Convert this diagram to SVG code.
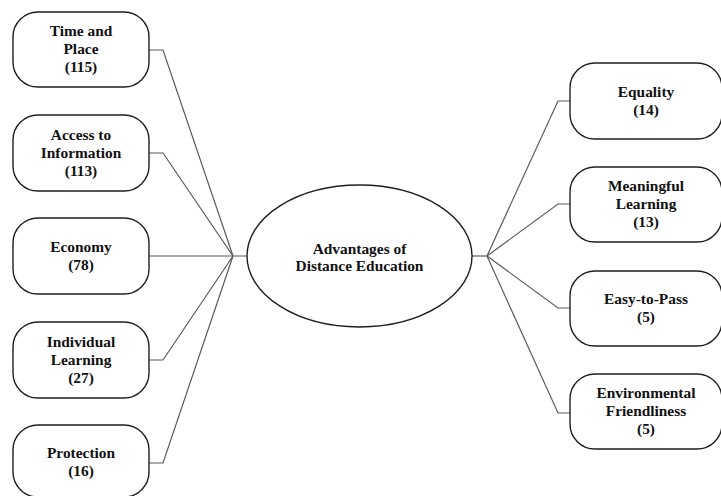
<svg xmlns="http://www.w3.org/2000/svg" width="721" height="496" viewBox="0 0 721 496">
<style>
.box{fill:#fff;stroke:#1e1e1e;stroke-width:1.4}
.ln{fill:none;stroke:#5a5a5a;stroke-width:1.2}
text{font-family:"Liberation Serif","Times New Roman",serif;font-weight:bold;font-size:15.4px;fill:#111;text-anchor:middle}
</style>
<rect width="721" height="496" fill="#fff"/>
<g id="connectors">
<polyline class="ln" points="149,50 163,50 233,256"/>
<polyline class="ln" points="149,153 163,153 233,256"/>
<polyline class="ln" points="149,256 247,256"/>
<polyline class="ln" points="149,360 163,360 233,256"/>
<polyline class="ln" points="149,463 163,463 233,256"/>
<polyline class="ln" points="472,256 487,256"/>
<polyline class="ln" points="487,256 558,101 570,101"/>
<polyline class="ln" points="487,256 558,204 570,204"/>
<polyline class="ln" points="487,256 558,308 570,308"/>
<polyline class="ln" points="487,256 558,413 570,413"/>
</g>
<g id="center">
<ellipse class="box" cx="359.5" cy="256" rx="112.5" ry="71"/>
<text x="359.5" y="254">Advantages of</text>
<text x="359.5" y="271">Distance Education</text>
</g>
<g id="time-place">
<rect class="box" x="13" y="12" width="136" height="75" rx="25" ry="25"/>
<text x="81" y="36">Time and</text><text x="81" y="54">Place</text><text x="81" y="72">(115)</text>
</g>
<g id="access">
<rect class="box" x="13" y="115" width="136" height="76" rx="25" ry="25"/>
<text x="81" y="140">Access to</text><text x="81" y="158">Information</text><text x="81" y="176">(113)</text>
</g>
<g id="economy">
<rect class="box" x="13" y="218" width="136" height="76" rx="25" ry="25"/>
<text x="81" y="252">Economy</text><text x="81" y="270">(78)</text>
</g>
<g id="individual">
<rect class="box" x="13" y="322" width="136" height="76" rx="25" ry="25"/>
<text x="81" y="347">Individual</text><text x="81" y="365">Learning</text><text x="81" y="383">(27)</text>
</g>
<g id="protection">
<rect class="box" x="13" y="425" width="136" height="72" rx="25" ry="25"/>
<text x="81" y="458">Protection</text><text x="81" y="476">(16)</text>
</g>
<g id="equality">
<rect class="box" x="570" y="63" width="152" height="76" rx="25" ry="25"/>
<text x="646" y="97">Equality</text><text x="646" y="115">(14)</text>
</g>
<g id="meaningful">
<rect class="box" x="570" y="167" width="152" height="75" rx="25" ry="25"/>
<text x="646" y="191">Meaningful</text><text x="646" y="209">Learning</text><text x="646" y="227">(13)</text>
</g>
<g id="easy">
<rect class="box" x="570" y="271" width="152" height="75" rx="25" ry="25"/>
<text x="646" y="304">Easy-to-Pass</text><text x="646" y="322">(5)</text>
</g>
<g id="environmental">
<rect class="box" x="570" y="374" width="152" height="75" rx="25" ry="25"/>
<text x="646" y="398">Environmental</text><text x="646" y="416">Friendliness</text><text x="646" y="434">(5)</text>
</g>
</svg>
